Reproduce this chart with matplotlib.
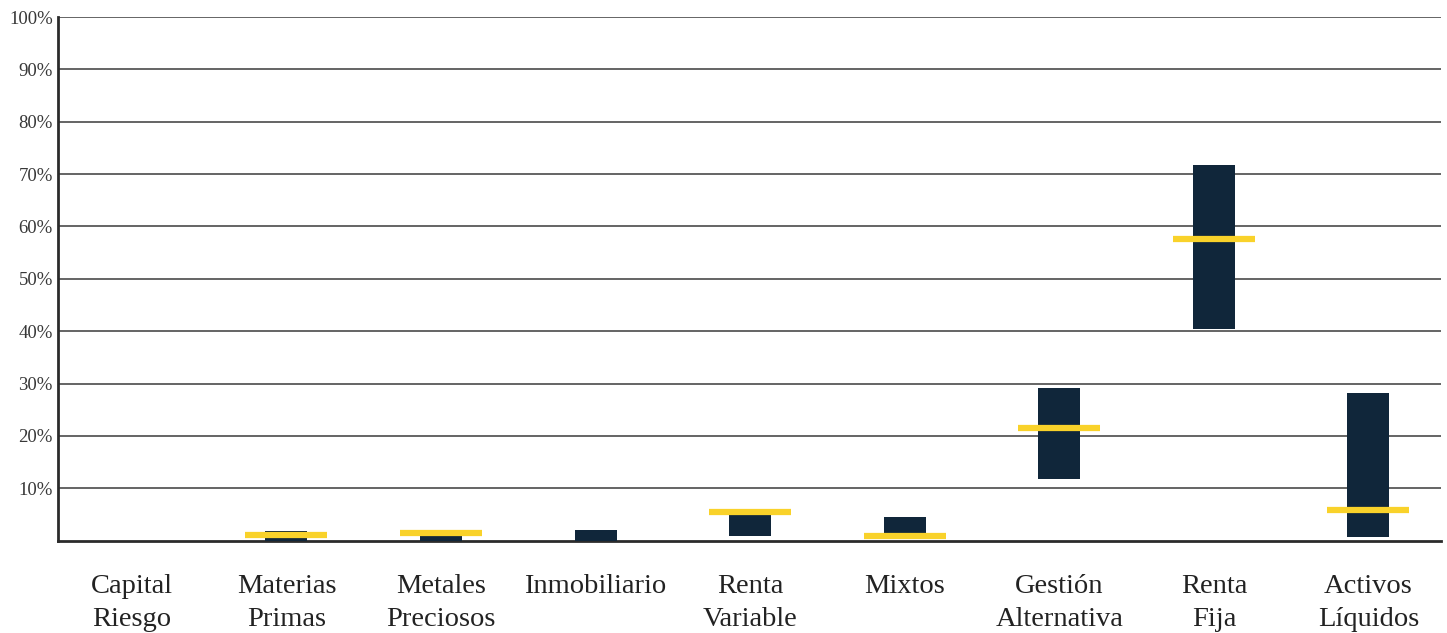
import numpy as np
import matplotlib.pyplot as plt

# categorías y rangos (mínimo / máximo) y valor actual, en %
categorias = ['Capital\nRiesgo', 'Materias\nPrimas', 'Metales\nPreciosos', 'Inmobiliario',
              'Renta\nVariable', 'Mixtos', 'Gestión\nAlternativa', 'Renta\nFija', 'Activos\nLíquidos']
rango_min = [np.nan, 0.0, 0.0, 0.0, 0.8, 1.4, 11.8, 40.5, 0.6]
rango_max = [np.nan, 1.9, 0.8, 2.1, 5.0, 4.6, 29.2, 71.8, 28.1]
actual = [np.nan, 1.0, 1.4, np.nan, 5.5, 0.8, 21.5, 57.6, 5.8]
yticks = [10, 20, 30, 40, 50, 60, 70, 80, 90, 100]

plt.rcParams['font.family'] = ['Liberation Serif', 'DejaVu Serif']

fig = plt.figure(figsize=(14.47, 6.33), dpi=100)
ax = fig.add_axes([0.0404, 0.146, 0.9555, 0.827])

x = np.arange(len(categorias))
lo = np.array(rango_min)
hi = np.array(rango_max)
ax.bar(x, hi - lo, bottom=lo, width=0.272, color='#10263a', zorder=3)

# valor actual: barra amarilla horizontal
ax.hlines(actual, x - 0.265, x + 0.265, colors='#f9d22a', linewidth=4.5, zorder=4)

ax.set_xlim(-0.475, 8.47)
ax.set_ylim(0, 100)
ax.set_yticks(yticks)
ax.set_yticklabels([f'{v}%' for v in yticks], fontsize=13.5, color='#383838')
ax.set_xticks(x)
ax.set_xticklabels(categorias, fontsize=20.5, color='#222222', linespacing=1.4)
ax.tick_params(axis='both', length=0)
ax.tick_params(axis='x', pad=24)
ax.tick_params(axis='y', pad=4)

ax.grid(axis='y', color='#3a3a3a', linewidth=1.1, zorder=0)
for s in ['top', 'right']:
    ax.spines[s].set_visible(False)
for s in ['left', 'bottom']:
    ax.spines[s].set_linewidth(2)
    ax.spines[s].set_color('#2b2b2b')

fig.savefig('out.png', dpi=100)
